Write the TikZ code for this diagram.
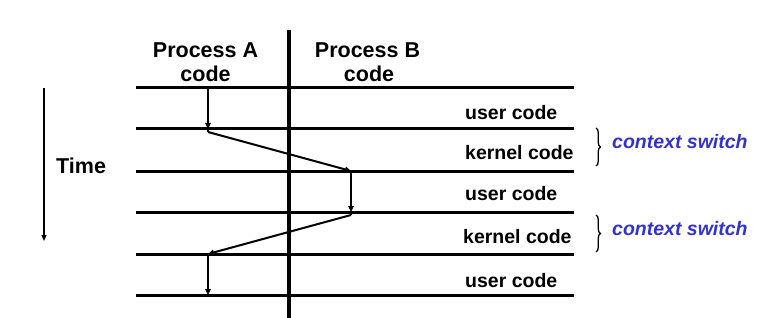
\documentclass[tikz,border=0pt]{standalone}
\usepackage{fontspec}
\setmainfont{Liberation Sans}
\usetikzlibrary{arrows.meta,decorations.pathreplacing}
\definecolor{ctxblue}{RGB}{51,51,204}
\begin{document}
\begin{tikzpicture}[x=1pt,y=-1pt,
  hline/.style={line width=3pt},
  flow/.style={line width=2pt,-{Triangle[length=6pt,width=5.5pt]}},
  head/.style={font=\fontsize{21.5}{23}\selectfont\bfseries,align=center,inner sep=0pt},
  lbl/.style={font=\fontsize{19.5}{21}\selectfont\bfseries,anchor=base west,inner sep=0pt},
  ctx/.style={font=\fontsize{19.5}{21}\selectfont\bfseries\itshape,text=ctxblue,anchor=base west,inner sep=0pt},
  brc/.style={decorate,decoration={brace,amplitude=4.5pt},line width=1.3pt}]
\useasboundingbox (0,0) rectangle (779,318);
% horizontal lines
\foreach \y [count=\i] in {88,129,171,212,254,295}{
  \coordinate (L\i) at (136,\y);
  \coordinate (R\i) at (574,\y);
  \draw[hline] (L\i) -- (R\i);
}
% vertical divider
\coordinate (vt) at (289,30);
\coordinate (vb) at (289,318);
\draw[line width=3.2pt] (vt) -- (vb);
% headers
\node[head,anchor=base] (pa) at (205.5,58) {Process A};
\node[head,anchor=base] (pac) at (205.5,82) {code};
\node[head,anchor=base] (pb) at (367.5,58) {Process B};
\node[head,anchor=base] (pbc) at (369,82) {code};
% flow coordinates
\coordinate (a1) at (208,88);
\coordinate (a2) at (208,129);
\coordinate (a3) at (208,132);
\coordinate (b1) at (351,171);
\coordinate (b2) at (351,212);
\coordinate (b3) at (351,215);
\coordinate (a4) at (208,254);
\coordinate (a5) at (208,295);
\draw[flow] (a1) -- (a2);
\draw[line width=2pt] (a2) -- (a3);
\draw[flow] (a3) -- (b1);
\draw[flow] (b1) -- (b2);
\draw[line width=2pt] (b2) -- (b3);
\draw[flow] (b3) -- (a4);
\draw[flow] (a4) -- (a5);
% labels
\node[lbl] (u1) at (465,120) {user code};
\node[lbl] (k1) at (465,160) {kernel code};
\node[lbl] (u2) at (465,200) {user code};
\node[lbl] (k2) at (463,243) {kernel code};
\node[lbl] (u3) at (465,287) {user code};
% braces
\coordinate (bt1) at (596,128);
\coordinate (bb1) at (596,166);
\coordinate (bt2) at (596,215);
\coordinate (bb2) at (596,252);
\draw[brc] (bt1) -- (bb1);
\draw[brc] (bt2) -- (bb2);
\node[ctx] (c1) at (612,149) {context switch};
\node[ctx] (c2) at (612,235) {context switch};
% time
\coordinate (t1) at (44,88);
\coordinate (t2) at (44,241);
\draw[line width=1.3pt,-{Triangle[length=6pt,width=5pt]}] (t1) -- (t2);
\node[head,anchor=base west] (time) at (56,173) {Time};
\end{tikzpicture}
\end{document}
